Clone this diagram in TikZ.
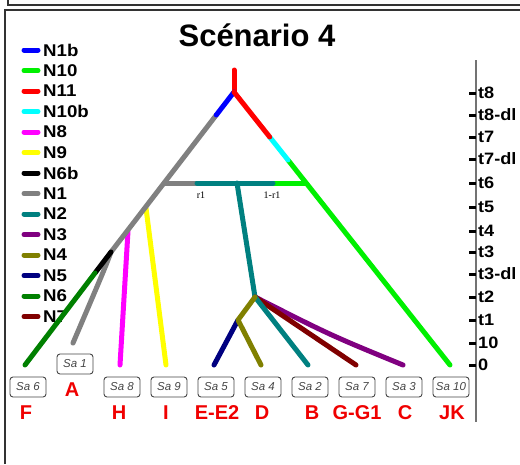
\documentclass[tikz,border=0pt]{standalone}
\usepackage{fontspec}
\setmainfont{Liberation Sans}
\newfontfamily\widesans[FakeStretch=1.1]{Liberation Sans}
\newfontfamily\serifr{Liberation Serif}
\definecolor{cN1b}{RGB}{0,0,255}
\definecolor{cN10}{RGB}{0,240,0}
\definecolor{cN11}{RGB}{255,0,0}
\definecolor{cN10b}{RGB}{0,255,255}
\definecolor{cN8}{RGB}{255,0,255}
\definecolor{cN9}{RGB}{255,255,0}
\definecolor{cN6b}{RGB}{0,0,0}
\definecolor{cN1}{RGB}{128,128,128}
\definecolor{cN2}{RGB}{0,128,128}
\definecolor{cN3}{RGB}{128,0,128}
\definecolor{cN4}{RGB}{128,128,0}
\definecolor{cN5}{RGB}{0,0,128}
\definecolor{cN6}{RGB}{0,128,0}
\definecolor{cN7}{RGB}{128,0,0}
\definecolor{labred}{RGB}{240,0,0}
\definecolor{boxgray}{RGB}{70,70,70}
\tikzset{
  branch/.style={line width=5pt, line cap=round, line join=round},
  legtext/.style={anchor=west, inner sep=0pt, font=\widesans\bfseries\fontsize{17}{19}\selectfont},
  axtext/.style={anchor=west, inner sep=0pt, font=\widesans\bfseries\fontsize{16.5}{18}\selectfont},
  sabox/.style={draw=boxgray, line width=0.9pt, rounded corners=3pt, minimum width=36pt, minimum height=20pt, inner sep=0pt, text=boxgray, font=\itshape\fontsize{11.5}{13}\selectfont},
  leaflab/.style={text=labred, inner sep=0pt, font=\bfseries\fontsize{20}{24}\selectfont},
  rlab/.style={inner sep=0pt, font=\serifr\fontsize{10}{12}\selectfont},
  frame/.style={line width=1.6pt, draw=black!80},
  tick/.style={line width=3pt, draw=black}
}
\begin{document}
\begin{tikzpicture}[x=1pt, y=-1pt]
\useasboundingbox (0,0) rectangle (520,464);
\clip (0,0) rectangle (520,464);
\fill[white] (0,0) rectangle (520,464);
% frames
\coordinate (fa) at (8,0); \coordinate (fb) at (8,5); \coordinate (fc) at (520,5);
\coordinate (fd) at (5,464); \coordinate (fe) at (5,10); \coordinate (ff) at (520,10);
\draw[frame] (fa) -- (fb) -- (fc);
\draw[frame] (fd) -- (fe) -- (ff);
% title
\node[inner sep=0pt, font=\bfseries\fontsize{31}{36}\selectfont] (title) at (257,35) {Scénario 4};
% legend
\foreach \n [count=\i from 0] in {N1b,N10,N11,N10b,N8,N9,N6b,N1,N2,N3,N4,N5,N6,N7} {
  \coordinate (la\n) at (24,50+20.5*\i);
  \coordinate (lb\n) at (38,50+20.5*\i);
  \draw[branch, color=c\n] (la\n) -- (lb\n);
  \node[legtext] (leg\n) at (43,50+20.5*\i) {\n};
}
% axis
\coordinate (axtop) at (476,60); \coordinate (axbot) at (476,422);
\draw[line width=1.5pt, draw=black!55] (axtop) -- (axbot);
\foreach \y/\t [count=\k] in {93/t8,115/t8-dl,137/t7,159/t7-dl,183/t6,207/t5,231/t4,252/t3,274/t3-dl,297/t2,320/t1,343/10,365/0} {
  \coordinate (tka\k) at (469,\y); \coordinate (tkb\k) at (476,\y);
  \draw[tick] (tka\k) -- (tkb\k);
  \node[axtext] (ax\k) at (478,\y) {\t};
}
% boxes
\foreach \x/\s in {28/6,122/8,169/9,216/5,263/4,310/2,357/7,404/3,451/10} {
  \node[sabox] (sa\s) at (\x,387) {Sa \s};
}
\node[sabox] (sa1) at (75,364) {Sa 1};
% red leaf labels
\foreach \x/\l/\m in {26/F/F,119/H/H,166/I/I,217/E-E2/E,262/D/D,312/B/B,357/G-G1/G,405/C/C,452/JK/JK} {
  \node[leaflab] (lab\m) at (\x,413) {\l};
}
\node[leaflab] (labA) at (72,390) {A};
% tree coordinates
\coordinate (rtop) at (234,70);
\coordinate (r8) at (234,92);
\coordinate (L8dl) at (216.3,115);
\coordinate (L6) at (164,183);
\coordinate (L5) at (146,208);
\coordinate (L4) at (128,231);
\coordinate (L3) at (111,252);
\coordinate (L3dl) at (95,273);
\coordinate (leafF) at (25,365);
\coordinate (leafA) at (73,343);
\coordinate (leafH) at (120,365);
\coordinate (leafI) at (166,365);
\coordinate (R7) at (269.7,137);
\coordinate (R7dl) at (288,160);
\coordinate (R6) at (306,183);
\coordinate (leafJK) at (450,365);
\coordinate (B1) at (197,183);
\coordinate (B2) at (237,183);
\coordinate (B3) at (273,183);
\coordinate (n2) at (255,297);
\coordinate (n1) at (238,320);
\coordinate (leafE) at (214,365);
\coordinate (leafD) at (261,365);
\coordinate (leafB) at (308,365);
\coordinate (leafG) at (356,365);
\coordinate (leafC) at (403,365);
% branches
\draw[branch, cN1] (L3) .. controls (105,268) .. (leafA);
\draw[branch, cN8] (L4) -- (leafH);
\draw[branch, cN9] (L5) -- (leafI);
\draw[branch, cN11] (rtop) -- (r8);
\draw[branch, cN1] (L8dl) -- (L3);
\draw[branch, cN6b] (L3) -- (L3dl);
\draw[branch, cN6] (L3dl) -- (leafF);
\draw[branch, cN1b] (r8) -- (L8dl);
\draw[branch, cN10] (R7dl) -- (leafJK);
\draw[branch, cN10b] (R7) -- (R7dl);
\draw[branch, cN11] (r8) -- (R7);
\draw[branch, cN1] (L6) -- (B1);
\draw[branch, cN10] (B3) -- (R6);
\draw[branch, cN2] (B1) -- (B3);
\draw[branch, cN2] (B2) -- (n2);
\draw[branch, cN3] (n2) .. controls (330,335) .. (leafC);
\draw[branch, cN7] (n2) -- (leafG);
\draw[branch, cN2] (n2) -- (leafB);
\draw[branch, cN5] (n1) -- (leafE);
\draw[branch, cN4] (n2) -- (n1) -- (leafD);
% r labels
\node[rlab] (r1) at (201,195) {r1};
\node[rlab] (r1b) at (272,195) {1-r1};
\end{tikzpicture}
\end{document}
